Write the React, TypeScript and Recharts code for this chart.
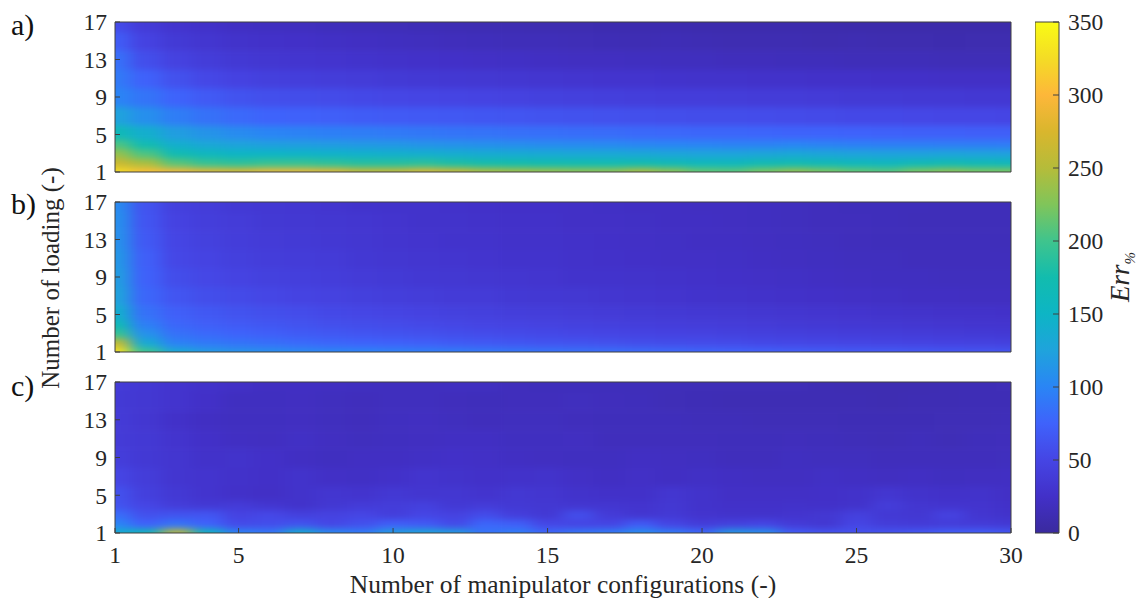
import { ScatterChart, Scatter, XAxis, YAxis, BarChart, Bar, Label } from 'recharts'

const ROWS = [1, 2, 3, 4, 5, 7, 9, 11, 13, 15, 17]
const CONFIGS = Array.from({ length: 30 }, (_, i) => i + 1)

const X_TICKS = [1, 5, 10, 15, 20, 25, 30]
const Y_TICKS = [1, 5, 9, 13, 17]
const BAR_TICKS = [0, 50, 100, 150, 200, 250, 300, 350]
const CORNERS = [{ x: 1, y: 1 }, { x: 30, y: 17 }]

const PANEL_A = [
  [325,305,295,285,280,290,290,285,265,265,280,270,250,245,240,235,235,250,235,215,212,225,238,225,215,210,225,235,225,225],
  [265,245,210,195,190,195,195,190,185,185,188,180,176,175,172,172,170,172,165,160,160,168,170,165,160,158,165,168,165,162],
  [235,205,170,158,150,150,148,146,144,142,140,138,136,135,133,132,132,130,128,126,126,128,130,128,125,124,124,126,125,123],
  [205,170,140,130,125,122,120,118,116,115,112,110,108,107,105,104,103,101,100,99,98,98,100,98,96,95,95,94,94,93],
  [165,140,120,112,105,100,98,96,94,92,90,88,87,85,84,83,82,80,79,78,78,77,76,76,75,74,73,73,72,72],
  [125,108,94,86,80,76,74,72,70,68,67,66,65,64,62,61,60,59,58,57,57,56,55,54,53,53,52,51,51,50],
  [100,88,76,68,62,59,57,55,53,51,50,49,48,46,45,44,43,42,41,41,40,39,39,38,37,37,36,36,35,35],
  [92,74,60,52,47,44,42,40,39,37,36,35,34,33,32,31,30,30,29,28,28,27,27,26,26,25,25,24,24,24],
  [85,58,46,40,36,33,31,30,29,27,26,25,24,23,22,21,21,20,19,19,18,18,17,17,16,16,16,15,15,15],
  [70,47,37,32,28,26,25,23,22,20,19,18,17,16,16,15,14,13,14,13,12,12,12,11,12,11,11,10,11,11],
  [55,38,30,26,22,20,19,17,16,15,14,13,12,12,11,11,10,10,10,9,9,9,9,9,8,8,8,8,8,8],
]

const PANEL_B = [
  [330,200,135,118,112,108,104,102,100,98,96,94,92,90,88,86,84,82,80,78,76,74,72,70,68,68,66,65,64,63],
  [260,135,98,92,88,84,81,78,76,74,72,69,67,65,63,62,60,58,57,56,55,53,52,51,50,49,48,47,46,45],
  [195,110,86,80,76,72,69,66,64,62,60,58,56,54,53,51,50,48,47,46,45,44,43,42,41,40,39,38,37,36],
  [165,95,78,72,68,65,62,59,57,55,53,51,49,48,46,45,44,42,41,40,39,38,37,36,35,34,33,32,31,31],
  [140,86,72,66,62,59,56,53,51,49,47,45,44,42,41,39,38,37,36,35,34,33,32,31,30,29,28,27,27,26],
  [125,78,64,58,54,51,48,46,44,42,40,38,38,36,35,34,32,31,30,29,28,27,26,25,24,23,22,22,21,21],
  [120,74,57,52,48,45,43,41,38,37,35,34,33,32,31,29,29,28,27,26,25,24,23,22,21,20,20,19,19,19],
  [115,72,52,48,44,41,39,38,35,33,32,31,30,29,29,27,26,25,24,24,23,22,21,20,19,19,18,18,18,18],
  [110,67,50,45,41,38,37,35,33,31,30,29,29,27,27,26,25,24,23,22,22,21,20,19,18,17,17,17,17,16],
  [108,64,47,42,39,36,34,33,32,30,28,28,27,26,26,24,24,23,22,22,21,20,19,18,18,17,16,16,16,16],
  [105,62,44,40,36,35,33,31,29,28,28,27,26,25,25,24,23,22,22,21,21,20,19,18,17,17,17,16,16,16],
]

const PANEL_C = [
  [140,165,255,160,100,92,140,105,95,122,130,122,88,95,80,90,94,108,94,80,118,110,70,62,60,62,66,72,72,65],
  [100,75,88,75,55,58,62,52,60,72,68,55,78,72,52,50,50,68,50,40,45,50,38,34,50,40,38,40,38,36],
  [82,60,62,64,48,52,44,46,50,42,50,46,55,42,36,58,38,32,36,30,28,28,30,34,44,36,34,46,32,28],
  [62,50,40,36,38,32,28,34,38,40,44,36,38,36,34,32,32,30,34,28,26,26,27,26,28,40,32,30,30,26],
  [60,44,36,30,26,24,28,32,30,35,32,33,30,34,32,28,26,26,32,28,24,24,24,25,27,32,28,26,28,24],
  [50,40,32,30,27,25,28,24,23,26,30,28,26,27,28,24,22,24,22,23,22,21,21,23,22,21,22,20,21,22],
  [42,36,32,27,28,25,22,20,22,22,23,25,24,22,21,20,20,22,21,20,18,18,20,19,19,18,18,18,18,19],
  [38,36,30,25,22,21,23,21,19,20,21,22,22,20,20,21,18,18,18,18,17,17,18,17,16,15,17,15,17,18],
  [38,33,26,22,20,20,21,19,18,20,21,19,18,19,19,18,17,17,17,16,16,15,15,15,14,14,14,15,15,16],
  [37,34,30,25,20,20,21,19,18,19,19,18,17,18,18,19,18,17,15,14,13,13,13,13,13,12,13,13,14,14],
  [38,35,30,27,24,21,22,21,20,19,19,20,20,18,17,17,17,16,16,15,15,15,15,13,12,12,12,13,14,15],
]

// colormap sampled from the colorbar, one colour every 25 units
const COLORS = ['#3a2a9e','#4230c8','#4545e4','#3f62fb','#2a85f5','#1fa3dc','#0db5c5','#12bcae','#3fc48d','#80c55a','#b5bc3a','#d9b62d','#fdb73a','#f4dc25','#f9fb15']

const hex = (c: string) => [1, 3, 5].map((i) => parseInt(c.slice(i, i + 2), 16))

function colorFor(v: number) {
  const t = Math.min(v, 349.9) / 25
  const i = Math.floor(t)
  const a = hex(COLORS[i])
  const b = hex(COLORS[i + 1])
  const rgb = a.map((n, k) => Math.round(n + (b[k] - n) * (t - i)))
  return `rgb(${rgb.join(',')})`
}

const PLOT_W = 896
const TEXT = '#262626'
const LINE = '#404040'
const SERIF = '"Liberation Serif", serif'

function toPoints(rows: number[][]) {
  return rows.flatMap((vals, r) =>
    vals.map((v, c) => ({
      x: CONFIGS[c],
      y: ROWS[r],
      v,
      below: r === 0 ? 0 : (ROWS[r] - ROWS[r - 1]) / 2,
      above: r === ROWS.length - 1 ? 0 : (ROWS[r + 1] - ROWS[r]) / 2,
    })),
  )
}

function makeHeatCell(plotH: number) {
  return function HeatCell(props: any) {
    const { cx, cy, payload } = props
    const unitX = PLOT_W / 29
    const unitY = plotH / 16
    const pad = 30 // edge cells run past the plot so the blur keeps their colour
    const left = payload.x === 1 ? pad : unitX / 2
    const right = payload.x === 30 ? pad : unitX / 2
    const up = payload.above ? payload.above * unitY : pad
    const down = payload.below ? payload.below * unitY : pad
    return (
      <rect
        x={cx - left}
        y={cy - up}
        width={left + right + 0.6}
        height={up + down + 0.6}
        fill={colorFor(payload.v)}
      />
    )
  }
}

function Panel({ rows, top, plotH, last }: { rows: number[][]; top: number; plotH: number; last?: boolean }) {
  const tickStyle = { fontSize: 23.5, fontFamily: SERIF, fill: TEXT }
  const bottomH = last ? 78 : 50
  return (
    <>
      <div style={{ position: 'absolute', left: 115, top, width: PLOT_W, height: plotH, overflow: 'hidden' }}>
        <ScatterChart width={PLOT_W} height={plotH} margin={{ top: 0, right: 0, bottom: 0, left: 0 }}>
          <XAxis type="number" dataKey="x" domain={[1, 30]} hide />
          <YAxis type="number" dataKey="y" domain={[1, 17]} hide />
          <Scatter data={toPoints(rows)} shape={makeHeatCell(plotH)} className="heat-layer" isAnimationActive={false} />
        </ScatterChart>
      </div>
      <div style={{ position: 'absolute', left: 0, top: top - 20 }}>
        <ScatterChart width={1040} height={20 + plotH + bottomH} margin={{ top: 10, right: 9, bottom: 0, left: 55 }}>
          <XAxis xAxisId="top" orientation="top" type="number" dataKey="x" domain={[1, 30]} ticks={X_TICKS} height={10}
            tick={false} stroke={LINE} tickLine={{ stroke: LINE }} tickSize={-5} />
          <XAxis xAxisId="bottom" orientation="bottom" type="number" dataKey="x" domain={[1, 30]} ticks={X_TICKS}
            height={bottomH} tick={last ? tickStyle : false} stroke={LINE} tickLine={{ stroke: LINE }} tickSize={-5} tickMargin={18}>
            {last && (
              <Label value="Number of manipulator configurations (-)" position="insideBottom" offset={18}
                style={{ fontSize: 25.5, fontFamily: SERIF, fill: TEXT }} />
            )}
          </XAxis>
          <YAxis yAxisId="left" orientation="left" type="number" dataKey="y" domain={[1, 17]} ticks={Y_TICKS} width={60}
            tick={tickStyle} stroke={LINE} tickLine={{ stroke: LINE }} tickSize={-5} tickMargin={13} />
          <YAxis yAxisId="right" orientation="right" type="number" dataKey="y" domain={[1, 17]} ticks={Y_TICKS} width={20}
            tick={false} stroke={LINE} tickLine={{ stroke: LINE }} tickSize={-5} />
          <Scatter xAxisId="bottom" yAxisId="left" data={CORNERS} shape={() => null} isAnimationActive={false} />
          <Scatter xAxisId="top" yAxisId="right" data={CORNERS} shape={() => null} isAnimationActive={false} />
        </ScatterChart>
      </div>
    </>
  )
}

function ColorBar() {
  return (
    <div style={{ position: 'absolute', left: 1035, top: 10 }}>
      <BarChart width={90} height={535} data={[{ name: 'Err', value: 350 }]} barCategoryGap={0}
        margin={{ top: 12, right: 0, bottom: 12, left: 0 }}>
        <XAxis dataKey="name" hide />
        <Bar dataKey="value" fill="url(#parula)" stroke={LINE} isAnimationActive={false} />
        <YAxis orientation="right" type="number" domain={[0, 350]} ticks={BAR_TICKS} width={66} interval={0}
          axisLine={false} tickLine={{ stroke: LINE }} tickSize={-6} tickMargin={15} stroke={LINE}
          tick={{ fontSize: 23.5, fontFamily: SERIF, fill: TEXT }} />
      </BarChart>
    </div>
  )
}

const panelLabel = (text: string, top: number) => (
  <div style={{ position: 'absolute', left: 11, top, fontSize: 30, lineHeight: '32px', fontFamily: SERIF, color: '#111' }}>
    {text}
  </div>
)

export default function App() {
  return (
    <div style={{ position: 'absolute', left: 0, top: 0, width: 1138, height: 598, background: '#fff', overflow: 'hidden' }}>
      <style>{`.heat-layer { filter: url(#heatBlur); }`}</style>
      <svg width={0} height={0} style={{ position: 'absolute' }}>
        <defs>
          <filter id="heatBlur" filterUnits="userSpaceOnUse" x={-100} y={-100} width={1200} height={400}
            colorInterpolationFilters="sRGB">
            <feGaussianBlur stdDeviation="8 3" />
          </filter>
          <linearGradient id="parula" x1="0" y1="1" x2="0" y2="0">
            {COLORS.map((c, i) => (
              <stop key={i} offset={i / (COLORS.length - 1)} stopColor={c} />
            ))}
          </linearGradient>
        </defs>
      </svg>

      <Panel rows={PANEL_A} top={22} plotH={150} />
      <Panel rows={PANEL_B} top={202} plotH={150} />
      <Panel rows={PANEL_C} top={382} plotH={151} last />
      <ColorBar />

      {panelLabel('a)', 9)}
      {panelLabel('b)', 188)}
      {panelLabel('c)', 370)}

      <div style={{ position: 'absolute', left: 51, top: 278, transform: 'translate(-50%, -50%) rotate(-90deg)',
        whiteSpace: 'nowrap', fontSize: 25, fontFamily: SERIF, color: TEXT }}>
        Number of loading (-)
      </div>
      <div style={{ position: 'absolute', left: 1122, top: 277, transform: 'translate(-50%, -50%) rotate(-90deg)',
        whiteSpace: 'nowrap', fontSize: 27, fontFamily: SERIF, fontStyle: 'italic', color: TEXT }}>
        Err<sub style={{ fontSize: 15 }}>%</sub>
      </div>
    </div>
  )
}
